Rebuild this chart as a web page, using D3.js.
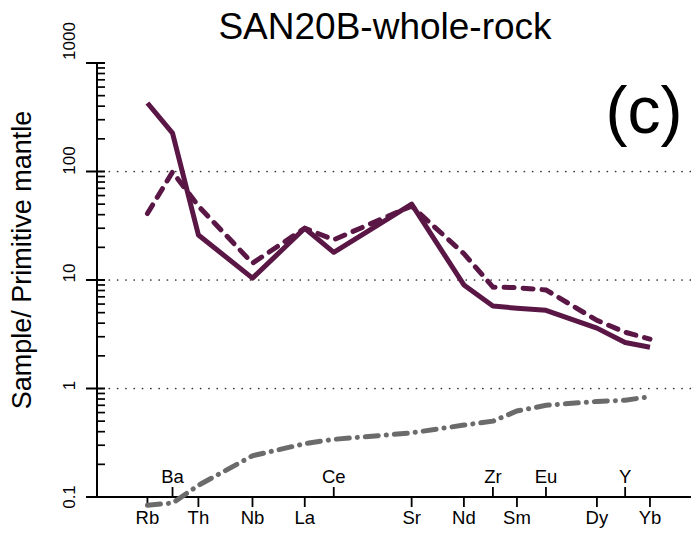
<!DOCTYPE html>
<html>
<head>
<meta charset="utf-8">
<script src="https://cdn.jsdelivr.net/npm/d3@7"></script>
<style>
    body { margin: 0; background: #fff; }
    text { font-family: "Liberation Sans", Arial, sans-serif; fill: #000; }
</style>
</head>
<body>
<svg id="chart" width="691" height="534"></svg>
<script>
// elements along the x axis, their spacing and on which side the label sits
var elements = ["Rb","Ba","Th","Nb","La","Ce","Sr","Nd","Zr","Sm","Eu","Dy","Y","Yb"];
var elemPos  = [0, 0.96, 1.95, 4.02, 6.02, 7.13, 10.11, 12.11, 13.22, 14.14, 15.25, 17.2, 18.28, 19.23];
var labelUp  = [false, true, false, false, false, true, false, false, true, false, true, false, true, false];

// sample / primitive mantle
var wholeRock = [428, 226, 26, 10.4, 30, 18, 50, 9.0, 5.75, 5.5, 5.25, 3.6, 2.65, 2.4];
var dashedSeries = [41, 99, 48, 14.3, 30, 23.5, 48, 17.5, 8.6, 8.5, 8.1, 4.25, 3.3, 2.85];
var refSeries = [0.084, 0.088, 0.128, 0.24, 0.31, 0.34, 0.39, 0.46, 0.50, 0.62, 0.70, 0.76, 0.78, 0.84];

var yTicks = [0.1, 1, 10, 100, 1000];
var yLabelNudge = [0, -3, -7, -11, -22];   // labels sit a bit above their ticks
var gridVals = [1, 10, 100];

var purple = "#5a1746";
var grey = "#6b6b6b";

var svg = d3.select("#chart");

var x = d3.scaleLinear().domain([-1.93, 20.8]).range([97, 691]);
var y = d3.scaleLog().domain([0.1, 1000]).range([497, 63]);

function fmt(v){ return v < 1 ? "0.1" : String(v); }

// dotted gridlines
svg.append("g").selectAll("line")
    .data(gridVals)
    .enter().append("line")
        .attr("x1", 101).attr("x2", 691)
        .attr("y1", function(d){ return y(d); })
        .attr("y2", function(d){ return y(d); })
        .attr("stroke", "#333")
        .attr("stroke-width", 1.7)
        .attr("stroke-linecap", "round")
        .attr("stroke-dasharray", "0.1,8.2");

// y axis: line, major ticks crossing, minor ticks inside
var yAx = svg.append("g");
yAx.append("line")
    .attr("x1", 97).attr("x2", 97)
    .attr("y1", y(1000)).attr("y2", y(0.1))
    .attr("stroke", "#000").attr("stroke-width", 2);

var minor = [];
[0.1, 1, 10, 100].forEach(function(dec){
    for (var k = 2; k <= 9; k++) minor.push(dec * k);
});
yAx.selectAll("line.minor")
    .data(minor)
    .enter().append("line")
        .attr("class", "minor")
        .attr("x1", 97).attr("x2", 105)
        .attr("y1", function(d){ return y(d); })
        .attr("y2", function(d){ return y(d); })
        .attr("stroke", "#000").attr("stroke-width", 1.7);

yAx.selectAll("line.major")
    .data(yTicks)
    .enter().append("line")
        .attr("class", "major")
        .attr("x1", 86).attr("x2", 105)
        .attr("y1", function(d){ return y(d); })
        .attr("y2", function(d){ return y(d); })
        .attr("stroke", "#000").attr("stroke-width", 2);

yAx.selectAll("text")
    .data(yTicks)
    .enter().append("text")
        .attr("transform", function(d, i){ return "translate(75," + (y(d) + yLabelNudge[i]) + ") rotate(-90)"; })
        .attr("text-anchor", "middle")
        .style("font-size", "17px")
        .text(fmt);

// x axis
svg.append("line")
    .attr("x1", 97).attr("x2", 691)
    .attr("y1", 497).attr("y2", 497)
    .attr("stroke", "#000").attr("stroke-width", 2);

var xt = svg.append("g").selectAll("g")
    .data(elements)
    .enter().append("g")
        .attr("transform", function(d, i){ return "translate(" + x(elemPos[i]) + ",497)"; });

xt.append("line")
    .attr("y1", 0)
    .attr("y2", function(d, i){ return labelUp[i] ? -10 : 10; })
    .attr("stroke", "#000").attr("stroke-width", 1.8);

xt.append("text")
    .attr("text-anchor", "middle")
    .attr("y", function(d, i){ return labelUp[i] ? -14 : 27; })
    .style("font-size", "18.5px")
    .text(function(d){ return d; });

// series
var line = d3.line()
    .x(function(d, i){ return x(elemPos[i]); })
    .y(function(d){ return y(d); });

svg.append("path")
    .datum(refSeries)
    .attr("d", line)
    .attr("fill", "none")
    .attr("stroke", grey)
    .attr("stroke-width", 5)
    .attr("stroke-linecap", "round")
    .attr("stroke-dasharray", "13,8,0.1,8");

svg.append("path")
    .datum(dashedSeries)
    .attr("d", line)
    .attr("fill", "none")
    .attr("stroke", purple)
    .attr("stroke-width", 5)
    .attr("stroke-linecap", "round")
    .attr("stroke-dasharray", "10,9");

svg.append("path")
    .datum(wholeRock)
    .attr("d", line)
    .attr("fill", "none")
    .attr("stroke", purple)
    .attr("stroke-width", 5)
    .attr("stroke-linejoin", "round");

// titles
svg.append("text")
    .attr("x", 385).attr("y", 39)
    .attr("text-anchor", "middle")
    .style("font-size", "37px")
    .text("SAN20B-whole-rock");

svg.append("text")
    .attr("transform", "translate(31,260) rotate(-90)")
    .attr("text-anchor", "middle")
    .style("font-size", "27px")
    .text("Sample/ Primitive mantle");

svg.append("text")
    .attr("x", 644).attr("y", 133)
    .attr("text-anchor", "middle")
    .style("font-size", "66px")
    .text("(c)");
</script>
</body>
</html>
